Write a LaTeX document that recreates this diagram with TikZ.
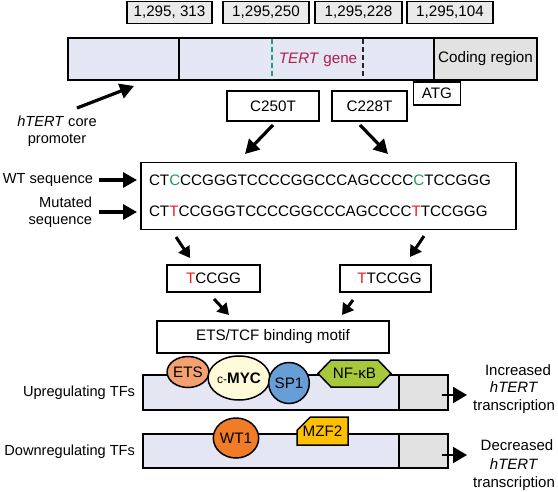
\documentclass[tikz,border=0pt]{standalone}
\usepackage{fontspec}
\setmainfont{Liberation Sans}
\usetikzlibrary{arrows.meta,shapes.geometric,shapes.symbols,shapes.misc}
\definecolor{lav}{RGB}{228,230,244}
\definecolor{codegray}{RGB}{226,226,226}
\definecolor{posgray}{RGB}{234,234,234}
\definecolor{gC}{RGB}{30,160,80}
\definecolor{rT}{RGB}{232,32,42}
\definecolor{tertred}{RGB}{176,30,78}
\definecolor{teal}{RGB}{32,160,128}
\definecolor{etsor}{RGB}{244,160,112}
\definecolor{mycy}{RGB}{255,250,216}
\definecolor{spblue}{RGB}{104,158,214}
\definecolor{nfgreen}{RGB}{166,200,58}
\definecolor{wtor}{RGB}{240,124,40}
\definecolor{mzfy}{RGB}{255,192,0}
\tikzset{
  txt/.style={inner sep=0pt, outer sep=0pt},
  lbl/.style={inner sep=0pt, outer sep=0pt, font=\fontsize{14.6}{17.5}\selectfont},
  posbox/.style={draw, line width=1.8pt, fill=posgray, inner sep=0pt, minimum height=22pt},
  wbox/.style={draw, line width=1.8pt, fill=white, inner sep=0pt},
  bar/.style={draw, line width=1.8pt, fill=lav, inner sep=0pt},
  graybox/.style={draw, line width=1.8pt, fill=codegray, inner sep=0pt},
  bigarrow/.style={line width=3.2pt, -{Triangle[length=14pt,width=15pt]}},
  smallarrow/.style={line width=3pt, -{Triangle[length=11pt,width=13pt]}},
  outarrow/.style={line width=2pt, -{Triangle[length=14pt,width=16pt]}},
  prot/.style={draw, line width=1.5pt, inner sep=0pt},
}
\begin{document}
\begin{tikzpicture}[x=1pt,y=-1pt,font=\fontsize{15.2}{18}\selectfont]
\useasboundingbox (0,0) rectangle (558,491);

% position boxes
\node[posbox, minimum width=85pt] (p1) at (169.5,12.5) {1,295, 313};
\node[posbox, minimum width=86pt] (p2) at (266,12.5) {1,295,250};
\node[posbox, minimum width=87pt] (p3) at (358.5,12.5) {1,295,228};
\node[posbox, minimum width=86pt] (p4) at (450,12.5) {1,295,104};

% gene bar
\node[bar, minimum width=469pt, minimum height=42pt] (gene) at (302.5,59) {};
\node[graybox, minimum width=103pt, minimum height=42pt] (coding) at (485.5,59) {Coding region};
\draw[line width=1.8pt] (179,38) -- (179,80);
\draw[line width=2pt, teal, dash pattern=on 5pt off 3pt] (272,39) -- (272,79);
\draw[line width=2pt, black!85, dash pattern=on 5pt off 3pt] (363,39) -- (363,79);
\node[txt, text=tertred] (tert) at (318,60) {\textit{TERT} gene};

\node[wbox, minimum width=47pt, minimum height=23pt] (atg) at (437,93.5) {ATG};
\node[wbox, minimum width=92pt, minimum height=30pt] (c250) at (273,106) {C250T};
\node[wbox, minimum width=75pt, minimum height=30pt] (c228) at (369.5,106) {C228T};

% promoter label
\node[lbl, align=center] (prom) at (57,131) {\textit{hTERT} core\\promoter};
\coordinate (prA) at (77,108);
\coordinate (prB) at (134,86);
\draw[bigarrow] (prA) -- (prB);

% sequence box
\node[wbox, minimum width=375pt, minimum height=67pt] (seq) at (328.5,196) {};
\node[txt, anchor=west] (wt) at (149,180) {CT\textcolor{gC}{C}CCGGGTCCCCGGCCCAGCCCC\textcolor{gC}{C}TCCGGG};
\node[txt, anchor=west] (mut) at (149,211) {CT\textcolor{rT}{T}CCGGGTCCCCGGCCCAGCCCC\textcolor{rT}{T}TCCGGG};

\node[lbl, anchor=east] (wtl) at (93,180) {WT sequence};
\node[lbl, anchor=east, align=right] (mutl) at (92,212) {Mutated\\sequence};
\coordinate (wtA) at (99,180);
\coordinate (wtB) at (137,180);
\coordinate (muA) at (99,212);
\coordinate (muB) at (137,212);
\draw[bigarrow] (wtA) -- (wtB);
\draw[bigarrow] (muA) -- (muB);

% mutation arrows
\coordinate (c250a) at (273,125);
\coordinate (c250b) at (245,154);
\coordinate (c228a) at (360,125);
\coordinate (c228b) at (388,154);
\draw[bigarrow] (c250a) -- (c250b);
\draw[bigarrow] (c228a) -- (c228b);

% motif boxes
\node[wbox, minimum width=93pt, minimum height=27pt] (t1) at (213.5,278.5) {\textcolor{rT}{T}CCGG};
\node[wbox, minimum width=91pt, minimum height=27pt] (t2) at (385.5,278.5) {\hspace{8pt}\textcolor{rT}{T}TCCGG};
\coordinate (s1a) at (176,237);
\coordinate (s1b) at (190,258);
\coordinate (s2a) at (424,236);
\coordinate (s2b) at (410,257);
\draw[smallarrow] (s1a) -- (s1b);
\draw[smallarrow] (s2a) -- (s2b);

\node[wbox, minimum width=232pt, minimum height=32pt] (motif) at (273,337) {ETS/TCF binding motif};
\coordinate (m1a) at (214,299);
\coordinate (m1b) at (229,315);
\coordinate (m2a) at (353,300);
\coordinate (m2b) at (342,315);
\draw[smallarrow] (m1a) -- (m1b);
\draw[smallarrow] (m2a) -- (m2b);

% upregulating bar
\node[bar, minimum width=305pt, minimum height=35pt] (ubar) at (295.5,392.5) {};
\node[graybox, minimum width=49pt, minimum height=35pt] (ugray) at (423.5,392.5) {};
\coordinate (uoA) at (442,395);
\coordinate (uoB) at (467,395);
\draw[outarrow] (uoA) -- (uoB);
\node[lbl, anchor=east] (upl) at (135,393) {Upregulating TFs};
\node[lbl, align=center, font=\fontsize{15}{17.5}\selectfont] (inc) at (514,389) {\hspace{8pt}Increased\\\textit{hTERT}\\transcription};

\node[prot, ellipse, fill=etsor, minimum width=38pt, minimum height=31pt] (ets) at (188,372) {ETS};
\node[prot, ellipse, fill=mycy, minimum width=50pt, minimum height=44pt] (myc) at (239,378) {{\fontsize{12}{12}\selectfont c-}\textbf{MYC}};
\node[prot, ellipse, fill=spblue, minimum width=36pt, minimum height=41pt] (sp1) at (289,383) {SP1};
\node[prot, signal, signal to=east and west, signal pointer angle=92, fill=nfgreen, minimum width=73pt, minimum height=27pt] (nfkb) at (354.5,373.5) {NF-κB};

% downregulating bar
\node[bar, minimum width=305pt, minimum height=34pt] (dbar) at (295.5,451) {};
\node[graybox, minimum width=49pt, minimum height=34pt] (dgray) at (423.5,451) {};
\coordinate (doA) at (442,455);
\coordinate (doB) at (467,455);
\draw[outarrow] (doA) -- (doB);
\node[lbl, anchor=east] (dnl) at (135,452) {Downregulating TFs};
\node[lbl, align=center, font=\fontsize{15}{18.5}\selectfont] (dec) at (514,465.5) {\hspace{6pt}Decreased\\\textit{hTERT}\\transcription};

\node[prot, ellipse, fill=wtor, minimum width=40pt, minimum height=40pt] (wt1) at (236,438) {WT1};
\node[prot, chamfered rectangle, chamfered rectangle corners=north west, chamfered rectangle xsep=8pt, chamfered rectangle ysep=8pt, fill=mzfy, minimum width=51pt, minimum height=28pt] (mzf) at (322.5,431) {MZF2};
\end{tikzpicture}
\end{document}
